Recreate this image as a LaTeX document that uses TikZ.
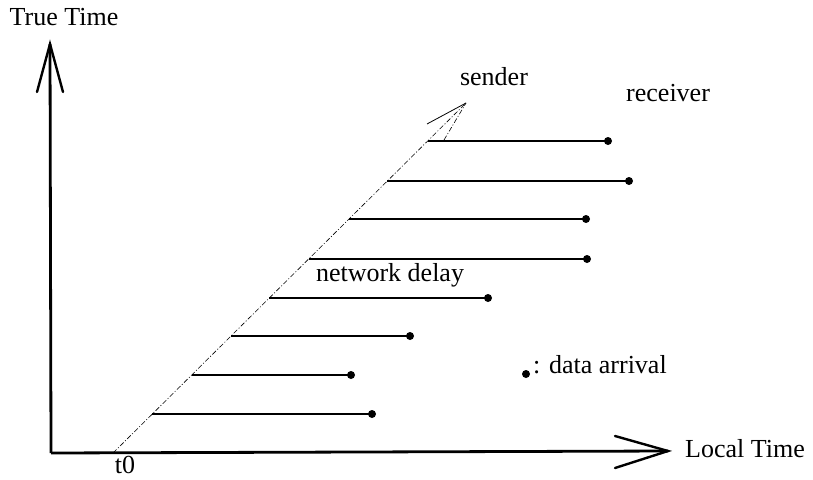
\documentclass[tikz,border=0pt]{standalone}
\usepackage{fontspec}
\setmainfont{Liberation Serif}
\begin{document}
\begin{tikzpicture}[x=1pt,y=-1pt,
  axis/.style={line width=2.8pt},
  head/.style={line width=2.4pt, line cap=round},
  clock/.style={line width=0.6pt, dash pattern=on 5pt off 2pt on 1pt off 2pt},
  msg/.style={line width=1.5pt},
  arrival/.style={circle, fill=black, inner sep=0pt, minimum size=8pt},
  lbl/.style={font=\fontsize{26}{29}\selectfont, inner sep=0pt}]
\useasboundingbox (0,0) rectangle (813,479);

% axes
\coordinate (O) at (51,453);
\coordinate (ytip) at (50,44);
\coordinate (xtip) at (668,451);
\draw[axis] (O) -- (ytip);
\draw[axis] (O) -- (xtip);
\draw[head] (37,92) -- (ytip) -- (63,92);
\draw[head] (615,436) -- (xtip) -- (615,468);

% sender clock line from t0
\coordinate (t0) at (113,453);
\coordinate (stip) at (466,103);
\draw[clock] (t0) -- (stip);
\draw[line width=0.8pt] (427,124) -- (stip);
\draw[clock] (444,140) -- (stip);

% messages: send instant on the clock line, dot at arrival
\foreach \n/\y/\xe in {1/141/608, 2/181/629, 3/219/586, 4/259/587,
                       5/298/488, 6/336/410, 7/375/351, 8/414/372} {
  \coordinate (s\n) at ({113+(453-\y)*1.0086},\y);
  \node[arrival] (r\n) at (\xe,\y) {};
  \draw[msg] (s\n) -- (r\n.center);
}

% labels
\node[lbl] (tt) at (64,17) {True Time};
\node[lbl] (lt) [anchor=west] at (685,449) {Local Time};
\node[lbl] (tz) at (125,465) {t0};
\node[lbl] (snd) at (494,77) {sender};
\node[lbl, anchor=west] (rcv) at (626,93) {receiver};
\node[lbl] (nd) at (390,275) {network delay};
\node[arrival] (key) at (526,374) {};
\node[lbl, anchor=west] (keytxt) at (533,365) {: data arrival};
\end{tikzpicture}
\end{document}
